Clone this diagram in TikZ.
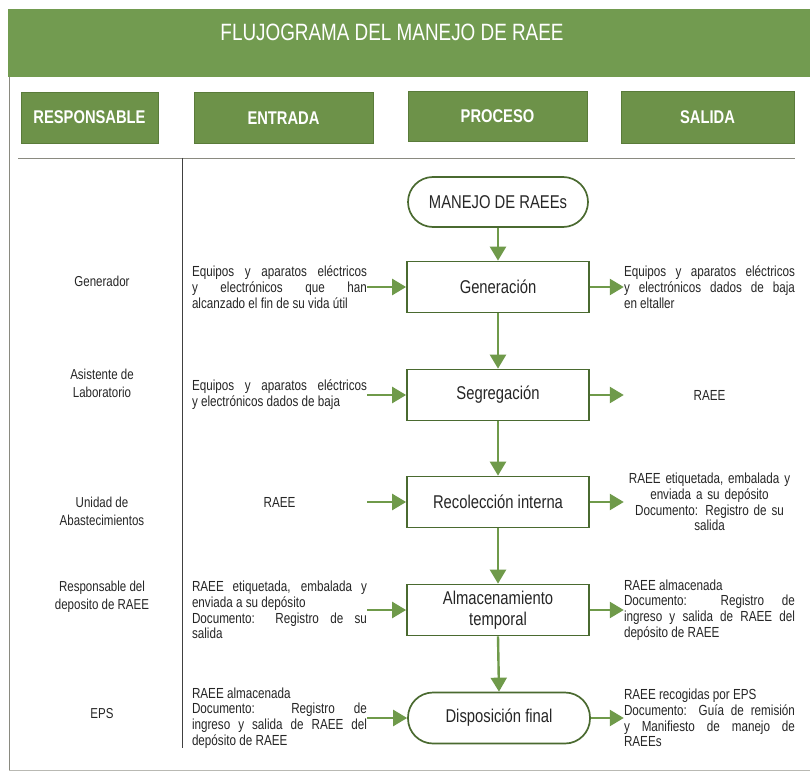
\documentclass[tikz,border=0pt]{standalone}
\usepackage{fontspec}
\setmainfont{Liberation Sans}[FakeStretch=0.8]
\usetikzlibrary{arrows.meta}
\definecolor{bandc}{HTML}{729B50}
\definecolor{headc}{HTML}{6D9249}
\definecolor{headline}{HTML}{5A7B3A}
\definecolor{boxc}{HTML}{4A6A30}
\definecolor{arrc}{HTML}{6F9A4A}
\definecolor{linec}{HTML}{8A8A80}
\definecolor{txt}{HTML}{262626}
\hyphenpenalty=10000
\exhyphenpenalty=10000
\tikzset{
  headbox/.style={fill=headc, draw=headline, line width=0.6pt, text=white,
    font=\fontsize{18.4}{20}\selectfont\bfseries, inner sep=0pt},
  procbox/.style={draw=boxc, line width=1.7pt, fill=white, minimum width=182pt,
    minimum height=51pt, inner sep=0pt, align=center, text=txt,
    font=\fontsize{18.5}{21}\selectfont},
  termbox/.style={procbox, rounded corners=24pt},
  arr/.style={draw=arrc, line width=2.4pt, -{Triangle[length=14pt,width=16pt]}},
  lbl/.style={align=center, text=txt, font=\fontsize{14.4}{18}\selectfont, inner sep=0pt},
  entr/.style={text width=175pt, inner sep=0pt, text=txt, align=justify,
    font=\fontsize{14.6}{15.8}\selectfont},
  entrc/.style={entr, align=center},
  sal/.style={text width=171pt, inner sep=0pt, text=txt, align=justify,
    font=\fontsize{14.6}{15.8}\selectfont},
  salc/.style={sal, align=center},
}
\begin{document}
\begin{tikzpicture}[x=1pt,y=-1pt]
\useasboundingbox (0,0) rectangle (810,778);
\fill[white] (0,0) rectangle (810,778);
% title band
\fill[bandc] (8,9) rectangle (810,77);
\node[text=white, font=\fontsize{23.6}{26}\selectfont, inner sep=0pt] (title) at (392,32) {FLUJOGRAMA DEL MANEJO DE RAEE};
% frame
\draw[linec, line width=1pt] (9,77) -- (9,770);
\draw[linec!60, line width=0.6pt] (9,770) -- (810,770);
% headers
\node[headbox, minimum width=137pt, minimum height=51pt] (hres) at (89.5,117.5) {RESPONSABLE};
\node[headbox, minimum width=179pt, minimum height=51pt] (hent) at (283.5,118) {ENTRADA};
\node[headbox, minimum width=179pt, minimum height=50pt] (hpro) at (497.5,116) {PROCESO};
\node[headbox, minimum width=173pt, minimum height=52pt] (hsal) at (707.5,117) {SALIDA};
% separators
\draw[linec, line width=0.8pt] (18,158) -- (795,158);
\draw[black!75, line width=1pt] (182,158) -- (182,748);
% process column
\node[termbox, minimum width=180pt, minimum height=50pt, rounded corners=25pt] (start) at (498,202) {MANEJO DE RAEEs};
\node[procbox] (gen) at (498,287) {Generación};
\node[procbox] (seg) at (498,395) {Segregación};
\node[procbox] (rec) at (498,502) {Recolección interna};
\node[procbox, font=\fontsize{18.5}{21}\selectfont] (alm) at (498,610) {Almacenamiento\\temporal};
\node[termbox, rounded corners=25pt] (dis) at (499,718) {Disposición final};
% responsables
\node[lbl] (r1) at (102,281) {Generador};
\node[lbl] (r2) at (102,383) {Asistente de\\Laboratorio};
\node[lbl] (r3) at (102,511) {Unidad de\\Abastecimientos};
\node[lbl] (r4) at (102,597) {Responsable del\\deposito de RAEE};
\node[lbl] (r5) at (102,714) {EPS};
% entradas
\node[entr] (e1) at (279.5,287) {Equipos y aparatos eléctricos\linebreak y electrónicos que han\linebreak alcanzado el fin de su vida útil};
\node[entr] (e2) at (279.5,395) {Equipos y aparatos eléctricos\linebreak y electrónicos dados de baja};
\node[entrc] (e3) at (279.5,502) {RAEE};
\node[entr] (e4) at (279.5,610) {RAEE etiquetada, embalada y\linebreak enviada a su depósito\\ Documento: Registro de su\linebreak salida};
\node[entr] (e5) at (279.5,718) {RAEE almacenada\\ Documento: Registro de\linebreak ingreso y salida de RAEE del\linebreak depósito de RAEE};
% salidas
\node[sal] (s1) at (709.5,287) {Equipos y aparatos eléctricos\linebreak y electrónicos dados de baja\linebreak en eltaller};
\node[salc] (s2) at (709.5,395) {RAEE};
\node[salc] (s3) at (709.5,502) {RAEE etiquetada, embalada y\\ enviada a su depósito\\ Documento: Registro de su\\ salida};
\node[sal] (s4) at (709.5,610) {RAEE almacenada\\ Documento: Registro de\linebreak ingreso y salida de RAEE del\linebreak depósito de RAEE};
\node[sal] (s5) at (709.5,718) {RAEE recogidas por EPS\\ Documento: Guía de remisión\linebreak y Manifiesto de manejo de\linebreak RAEEs};
% vertical flow
\draw[arr] (start.south) -- (gen.north);
\draw[arr] (gen.south) -- (seg.north);
\draw[arr] (seg.south) -- (rec.north);
\draw[arr] (rec.south) -- (alm.north);
\draw[arr] (alm.south) -- (dis.north);
% inputs
\draw[arr] (e1.east) -- (gen.west);
\draw[arr] (e2.east) -- (seg.west);
\draw[arr] (e3.east) -- (rec.west);
\draw[arr] (e4.east) -- (alm.west);
\draw[arr] (e5.east) -- (dis.west);
% outputs
\draw[arr] (gen.east) -- (s1.west);
\draw[arr] (seg.east) -- (s2.west);
\draw[arr] (rec.east) -- (s3.west);
\draw[arr] (alm.east) -- (s4.west);
\draw[arr] (dis.east) -- (s5.west);
\end{tikzpicture}
\end{document}
